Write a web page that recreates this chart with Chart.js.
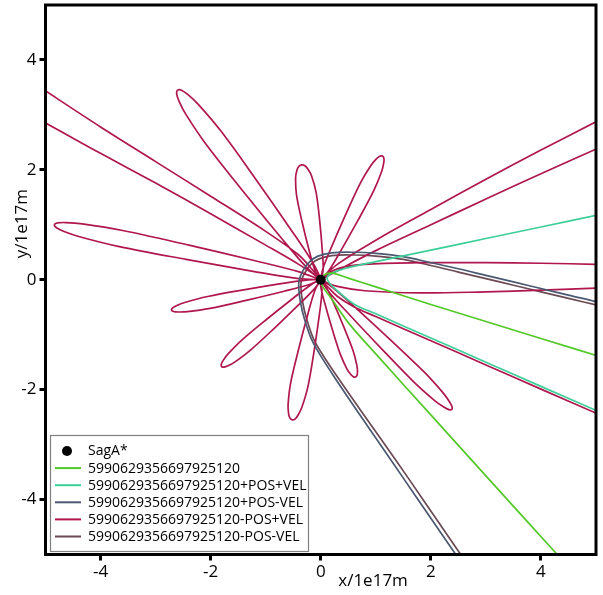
<!DOCTYPE html>
<html><head><meta charset="utf-8">
<script src="https://cdn.jsdelivr.net/npm/chart.js@4.4.1/dist/chart.umd.min.js"></script>
<style>html,body{margin:0;padding:0;background:#fff;}#wrap{width:603px;height:595px;}</style>
</head><body><div id="wrap"><canvas id="c" width="603" height="595"></canvas></div>
<script>
const xTicks = [-4, -2, 0, 2, 4];
const yTicks = [-4, -2, 0, 2, 4];
const xTitle = "x/1e17m";
const yTitle = "y/1e17m";
const labels = ["SagA*", "5990629356697925120", "5990629356697925120+POS+VEL", "5990629356697925120+POS-VEL", "5990629356697925120-POS+VEL", "5990629356697925120-POS-VEL"];
const colors = ["#000000", "#52c927", "#3ccf98", "#4a5872", "#b0174f", "#6b4a55"];

const sagA = [[0, 0]];

const base = [[4.8,-5.56],[4.25,-4.95],[3,-3.57],[2,-2.46],[1,-1.35],[0.5,-0.78],[0.2,-0.35],[0,-0.05],[0.05,0.08],[0.2,0.12],[0.5,0.03],[1,-0.13],[2,-0.45],[3,-0.76],[4,-1.07],[5.05,-1.39],[6,-1.68]];

const posPlusVel = [[6,1.38],[5.05,1.18],[4,0.96],[3,0.75],[2,0.54],[1,0.33],[0.5,0.22],[0.25,0.14],[0.12,0.05],[0.15,-0.05],[0.3,-0.2],[0.6,-0.44],[1,-0.62],[2,-1.06],[3,-1.5],[4,-1.94],[5.05,-2.4],[6,-2.82]];

const posMinusVel = [[6,-0.65],[5.05,-0.41],[4.5,-0.28],[4,-0.16],[3.5,-0.04],[3,0.08],[2.5,0.2],[2,0.31],[1.5,0.42],[1,0.48],[0.6,0.5],[0.2,0.49],[-0.05,0.43],[-0.2,0.33],[-0.32,0.17],[-0.39,0.0],[-0.4,-0.15],[-0.37,-0.4],[-0.3,-0.7],[-0.16,-1.1],[0.04,-1.45],[0.3,-1.85],[0.65,-2.37],[1,-2.88],[1.5,-3.61],[2,-4.34],[2.48,-5.04],[2.9,-5.65]];

const negPosPlusVel = [
[6,-2.87],[5.05,-2.45],[4,-1.99],[3,-1.55],[2,-1.11],[1,-0.67],[0.6,-0.49],[0.3,-0.3],[0.1,-0.1],[0,0],
[0.227,-0.152],[0.655,-0.53],[1.27,-1.099],[1.877,-1.678],[2.215,-2.05],[2.335,-2.215],[2.383,-2.308],[2.38,-2.36],[2.329,-2.364],[2.235,-2.317],[2.069,-2.198],[1.693,-1.862],[1.11,-1.261],[0.535,-0.65],[0.153,-0.226],[0,0],
[0.095,-0.126],[0.231,-0.417],[0.415,-0.849],[0.586,-1.288],[0.657,-1.561],[0.667,-1.677],[0.658,-1.74],[0.63,-1.77],[0.59,-1.764],[0.543,-1.721],[0.477,-1.625],[0.36,-1.368],[0.215,-0.921],[0.085,-0.469],[0.005,-0.158],[0,0],
[0.021,-0.217],[-0.028,-0.659],[-0.122,-1.303],[-0.233,-1.945],[-0.343,-2.321],[-0.413,-2.466],[-0.468,-2.535],[-0.52,-2.55],[-0.562,-2.515],[-0.585,-2.43],[-0.593,-2.269],[-0.547,-1.881],[-0.398,-1.247],[-0.232,-0.617],[-0.105,-0.191],[0,0],
[-0.112,-0.162],[-0.399,-0.454],[-0.83,-0.87],[-1.271,-1.275],[-1.557,-1.494],[-1.684,-1.567],[-1.758,-1.591],[-1.8,-1.58],[-1.806,-1.537],[-1.772,-1.467],[-1.683,-1.35],[-1.429,-1.095],[-0.97,-0.71],[-0.501,-0.336],[-0.176,-0.09],[0,0],
[-0.208,-0.087],[-0.664,-0.209],[-1.336,-0.37],[-2.011,-0.521],[-2.421,-0.581],[-2.59,-0.587],[-2.676,-0.577],[-2.71,-0.55],[-2.69,-0.513],[-2.614,-0.469],[-2.457,-0.409],[-2.055,-0.305],[-1.374,-0.18],[-0.692,-0.067],[-0.226,-0.001],[0,0],
[-0.399,0.021],[-1.23,0.154],[-2.447,0.371],[-3.66,0.603],[-4.38,0.783],[-4.663,0.879],[-4.801,0.946],[-4.84,1.0],[-4.783,1.034],[-4.629,1.041],[-4.332,1.017],[-3.6,0.897],[-2.393,0.629],[-1.19,0.346],[-0.375,0.139],[0,0],
[-0.1,0.08],[-0.4,0.28],[-1,0.63],[-2,1.2],[-3,1.76],[-4,2.3],[-5.05,2.88],[-6,3.38],[-6,4.1],[-5.05,3.47],[-4,2.78],[-3,2.15],[-2,1.52],[-1,0.88],[-0.4,0.45],[-0.1,0.12],[0,0],
[-0.266,0.233],[-0.743,0.793],[-1.426,1.63],[-2.094,2.48],[-2.455,3.018],[-2.575,3.252],[-2.617,3.383],[-2.6,3.45],[-2.531,3.449],[-2.417,3.372],[-2.225,3.192],[-1.806,2.696],[-1.174,1.82],[-0.557,0.933],[-0.15,0.319],[0,0],
[-0.099,0.155],[-0.203,0.504],[-0.331,1.019],[-0.44,1.538],[-0.457,1.857],[-0.434,1.99],[-0.4,2.06],[-0.35,2.09],[-0.294,2.078],[-0.238,2.022],[-0.173,1.905],[-0.086,1.598],[-0.019,1.071],[0.027,0.542],[0.043,0.179],[0,0],
[0.04,0.205],[0.199,0.604],[0.45,1.18],[0.715,1.75],[0.908,2.075],[1.006,2.194],[1.071,2.247],[1.12,2.25],[1.147,2.209],[1.144,2.126],[1.108,1.975],[0.965,1.626],[0.67,1.07],[0.361,0.522],[0.14,0.155],[0,0],
[0.3,0.28],[1,0.72],[2,1.28],[3,1.83],[4,2.36],[5.05,2.9],[6,3.39],[6,2.83],[5.05,2.4],[4,1.93],[3,1.47],[2,1.0],[1,0.53],[0.4,0.22],[0,0],
[0.3,0.2],[0.8,0.28],[1.8,0.31],[3,0.31],[4,0.3],[5.05,0.28],[6,0.26],[6,-0.12],[5.05,-0.15],[4,-0.19],[3,-0.22],[1.8,-0.24],[0.8,-0.2],[0.3,-0.12],[0.05,-0.03]
];

const negPosMinusVel = [[6,-0.7],[5.05,-0.47],[4.5,-0.34],[4,-0.22],[3.5,-0.1],[3,0.02],[2.5,0.14],[2,0.26],[1.5,0.37],[1,0.43],[0.6,0.45],[0.2,0.44],[-0.03,0.38],[-0.17,0.29],[-0.28,0.14],[-0.35,-0.01],[-0.36,-0.15],[-0.33,-0.4],[-0.26,-0.7],[-0.12,-1.1],[0.09,-1.45],[0.36,-1.85],[0.72,-2.37],[1.08,-2.88],[1.59,-3.61],[2.09,-4.34],[2.57,-5.04],[3.0,-5.65]];

const FONT = "'Open Sans', 'Noto Sans', sans-serif";
const toXY = a => a.map(p => ({x: p[0], y: p[1]}));
const lineDs = (i, arr) => ({
  label: labels[i], data: toXY(arr), showLine: true, borderColor: colors[i], backgroundColor: colors[i],
  borderWidth: 1.7, pointRadius: 0, pointHoverRadius: 0, tension: 0.35, fill: false
});

const framePlugin = {
  id: 'frame',
  afterDatasetsDraw(chart) {
    const {ctx, chartArea: a} = chart;
    ctx.save();
    ctx.strokeStyle = '#000'; ctx.lineWidth = 3;
    ctx.strokeRect(a.left, a.top, a.right - a.left, a.bottom - a.top);
    ctx.restore();
  }
};

const titlesPlugin = {
  id: 'titles',
  afterDraw(chart) {
    const {ctx, chartArea: a} = chart;
    ctx.save();
    ctx.fillStyle = '#000';
    ctx.font = "17px " + FONT;
    ctx.textAlign = 'center'; ctx.textBaseline = 'middle';
    ctx.fillText(xTitle, a.left + 0.595 * (a.right - a.left), 581);
    ctx.translate(22, a.top + 0.398 * (a.bottom - a.top));
    ctx.rotate(-Math.PI / 2);
    ctx.fillText(yTitle, 0, 0);
    ctx.restore();
  }
};

const legendPlugin = {
  id: 'boxLegend',
  afterDraw(chart) {
    const ctx = chart.ctx;
    const bx = 50.5, by = 435.5, bw = 258, bh = 116;
    ctx.save();
    ctx.fillStyle = '#fff';
    ctx.fillRect(bx, by, bw, bh);
    ctx.strokeStyle = '#808080'; ctx.lineWidth = 1.2;
    ctx.strokeRect(bx, by, bw, bh);
    ctx.font = "14px " + FONT;
    ctx.textBaseline = 'middle'; ctx.textAlign = 'left';
    chart.data.datasets.forEach((ds, i) => {
      const y = 451 + i * 17.1;
      if (i === 0) {
        ctx.fillStyle = ds.backgroundColor;
        ctx.beginPath(); ctx.arc(67, y, 5, 0, Math.PI * 2); ctx.fill();
      } else {
        ctx.strokeStyle = ds.borderColor; ctx.lineWidth = 2;
        ctx.beginPath(); ctx.moveTo(55, y); ctx.lineTo(81, y); ctx.stroke();
      }
      ctx.fillStyle = '#000';
      ctx.fillText(ds.label, 88, y + 0.5);
    });
    ctx.restore();
  }
};

const tickFont = {family: FONT, size: 17};
new Chart(document.getElementById('c'), {
  type: 'scatter',
  data: {
    datasets: [
      {label: labels[0], data: toXY(sagA), pointRadius: 5, pointHoverRadius: 5, backgroundColor: colors[0], borderColor: colors[0], borderWidth: 0, showLine: false},
      lineDs(1, base),
      lineDs(2, posPlusVel),
      lineDs(3, posMinusVel),
      lineDs(4, negPosPlusVel),
      lineDs(5, negPosMinusVel)
    ]
  },
  options: {
    responsive: false, animation: false, devicePixelRatio: 1,
    layout: {padding: {left: 0, top: 5, right: 7, bottom: 0}},
    plugins: {legend: {display: false}, tooltip: {enabled: false}, title: {display: false}},
    scales: {
      x: {
        type: 'linear', min: -5, max: 5,
        afterBuildTicks: s => { s.ticks = xTicks.map(v => ({value: v})); },
        afterFit: s => { s.height = 40.5; s.paddingLeft = 0; s.paddingRight = 0; },
        grid: {display: true, drawOnChartArea: false, drawTicks: true, tickLength: 6, tickWidth: 3, tickColor: '#000', color: '#000'},
        border: {display: false},
        ticks: {color: '#000', font: tickFont, padding: 1, maxRotation: 0, autoSkip: false}
      },
      y: {
        type: 'linear', min: -5, max: 5,
        afterBuildTicks: s => { s.ticks = yTicks.map(v => ({value: v})); },
        afterFit: s => { s.width = 45.5; s.paddingTop = 0; s.paddingBottom = 0; },
        grid: {display: true, drawOnChartArea: false, drawTicks: true, tickLength: 6, tickWidth: 3, tickColor: '#000', color: '#000'},
        border: {display: false},
        ticks: {color: '#000', font: tickFont, padding: 3, autoSkip: false}
      }
    }
  },
  plugins: [framePlugin, titlesPlugin, legendPlugin]
});
</script></body></html>
